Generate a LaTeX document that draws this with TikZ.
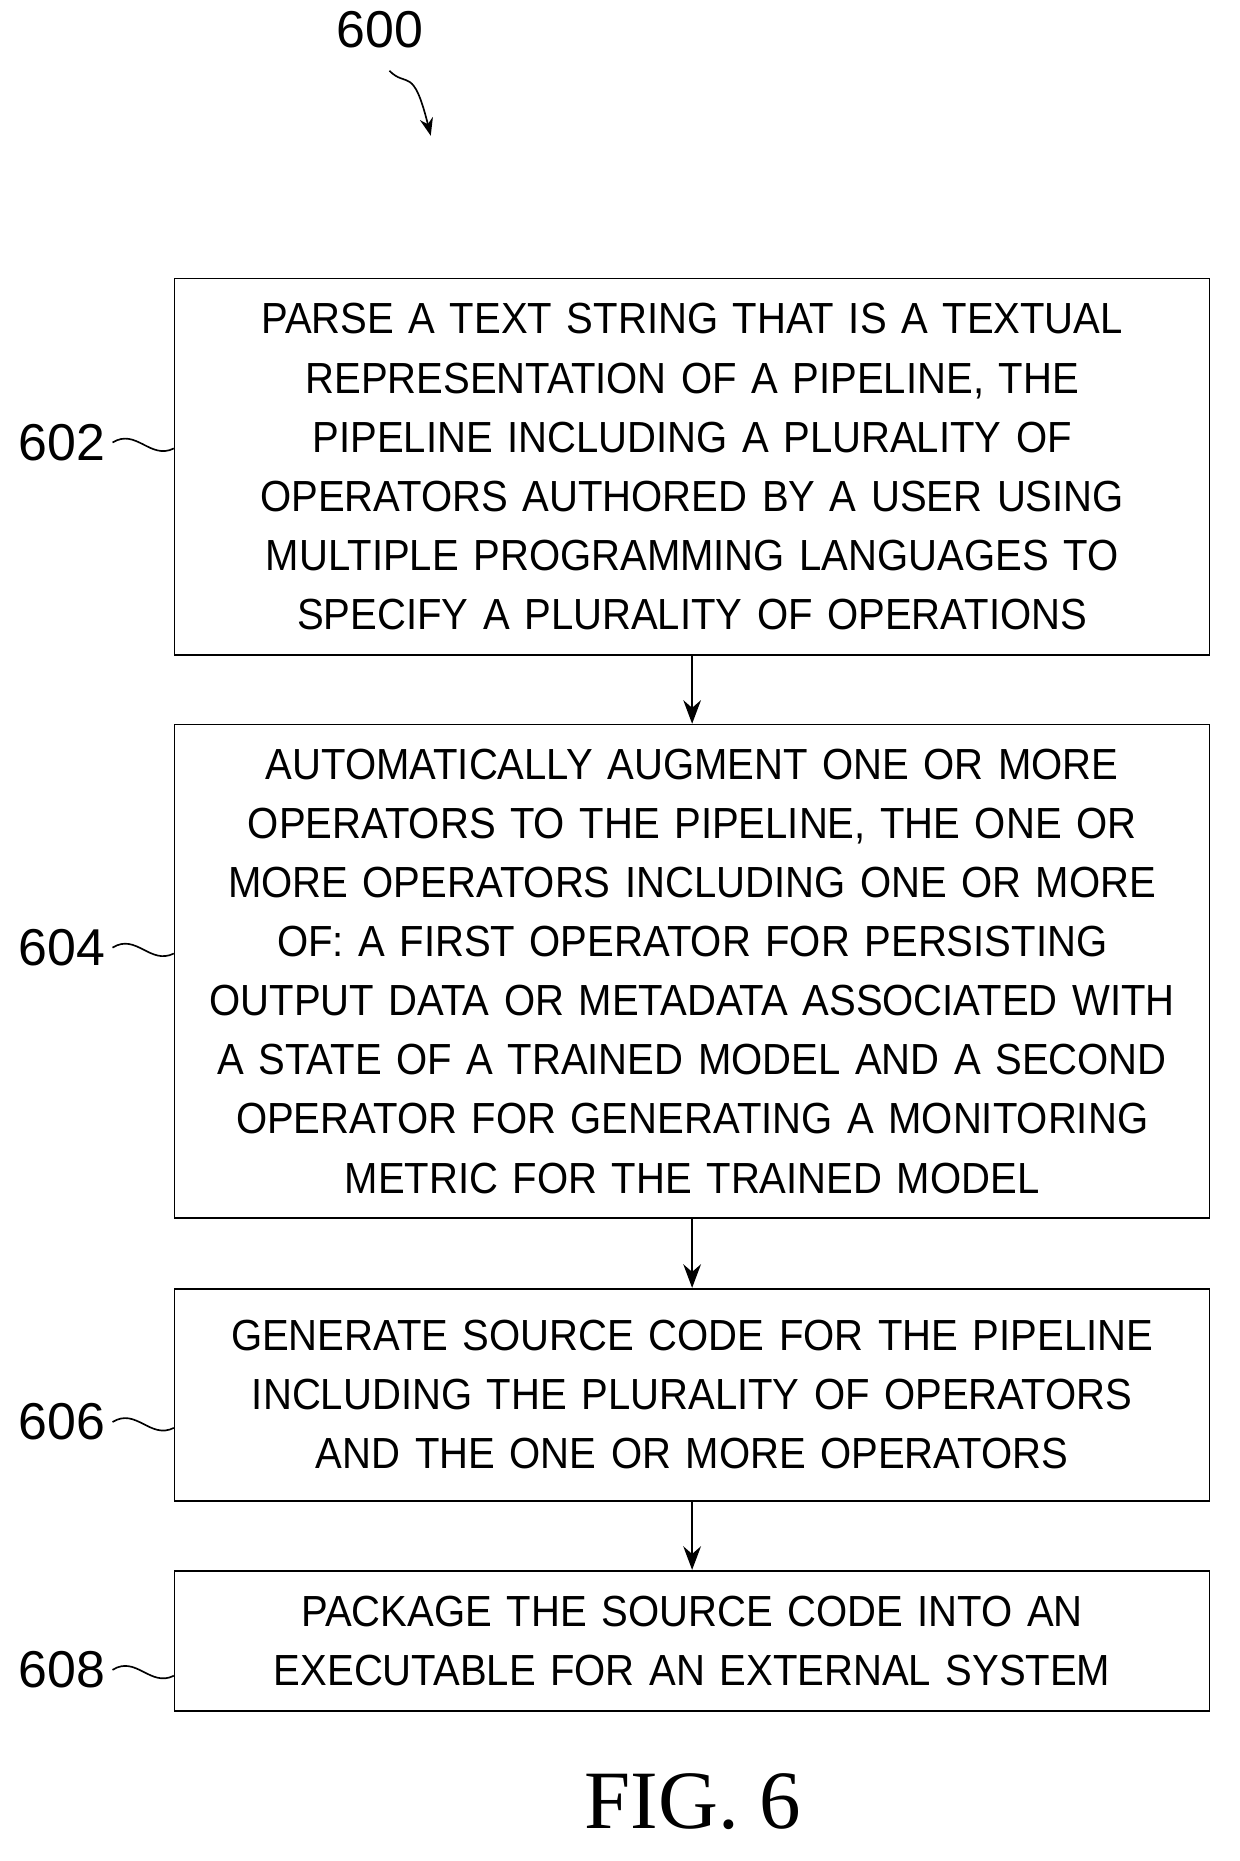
\documentclass[tikz,border=0pt]{standalone}
\usepackage{fontspec}
\setmainfont{Liberation Sans}[FakeStretch=0.92]
\newfontfamily\labelfont{Liberation Sans}
\newfontfamily\figfont{Liberation Serif}
\usetikzlibrary{arrows.meta}
\tikzset{
  stepbox/.style={draw,thick,text width=17.3cm,align=center,inner sep=0.12cm,
    font=\fontsize{21}{28.5}\selectfont},
  reflabel/.style={font=\labelfont\fontsize{25}{28}\selectfont},
  flow/.style={thick,-{Stealth[length=4mm,width=3mm]}}
}
\begin{document}
\begin{tikzpicture}
  \useasboundingbox (0,0) rectangle (21,-31.54);
  \begin{scope}
    \node[stepbox,minimum height=6.38cm] (s602) at (11.73,-7.91)
      {PARSE A TEXT STRING THAT IS A TEXTUAL\\REPRESENTATION OF A PIPELINE, THE\\PIPELINE INCLUDING A PLURALITY OF\\OPERATORS AUTHORED BY A USER USING\\MULTIPLE PROGRAMMING LANGUAGES TO\\SPECIFY A PLURALITY OF OPERATIONS};
    \node[stepbox,minimum height=8.36cm] (s604) at (11.73,-16.46)
      {AUTOMATICALLY AUGMENT ONE OR MORE\\OPERATORS TO THE PIPELINE, THE ONE OR\\MORE OPERATORS INCLUDING ONE OR MORE\\OF: A FIRST OPERATOR FOR PERSISTING\\OUTPUT DATA OR METADATA ASSOCIATED WITH\\A STATE OF A TRAINED MODEL AND A SECOND\\OPERATOR FOR GENERATING A MONITORING\\METRIC FOR THE TRAINED MODEL};
    \node[stepbox,minimum height=3.6cm] (s606) at (11.73,-23.64)
      {GENERATE SOURCE CODE FOR THE PIPELINE\\INCLUDING THE PLURALITY OF OPERATORS\\AND THE ONE OR MORE OPERATORS};
    \node[stepbox,minimum height=2.38cm] (s608) at (11.73,-27.81)
      {PACKAGE THE SOURCE CODE INTO AN\\EXECUTABLE FOR AN EXTERNAL SYSTEM};
  \end{scope}
  \path[flow] (s602) edge (s604)
              (s604) edge (s606)
              (s606) edge (s608);
  % reference numerals
  \node[reflabel] (n600) at (6.44,-0.5) {600};
  \node[reflabel] (n602) at (1.05,-7.5) {602};
  \node[reflabel] (n604) at (1.05,-16.06) {604};
  \node[reflabel] (n606) at (1.05,-24.1) {606};
  \node[reflabel] (n608) at (1.05,-28.3) {608};
  \coordinate (a600) at (7.3,-2.3);
  \draw[thick,-{Stealth[length=3mm]}] (6.6,-1.2) .. controls (6.9,-1.5) and (7.0,-1.1) .. (a600);
  \foreach \n/\b in {602/s602,604/s604,606/s606,608/s608}
    \draw[thick] (n\n.east) .. controls ([xshift=0.4cm,yshift=0.25cm]n\n.east) and ([xshift=-0.4cm,yshift=-0.3cm]n\n.east -| \b.west) .. ([yshift=-0.1cm]n\n.east -| \b.west);
  \node[font=\figfont\fontsize{40}{46}\selectfont] (fig) at (11.74,-30.54) {FIG. 6};
\end{tikzpicture}
\end{document}
